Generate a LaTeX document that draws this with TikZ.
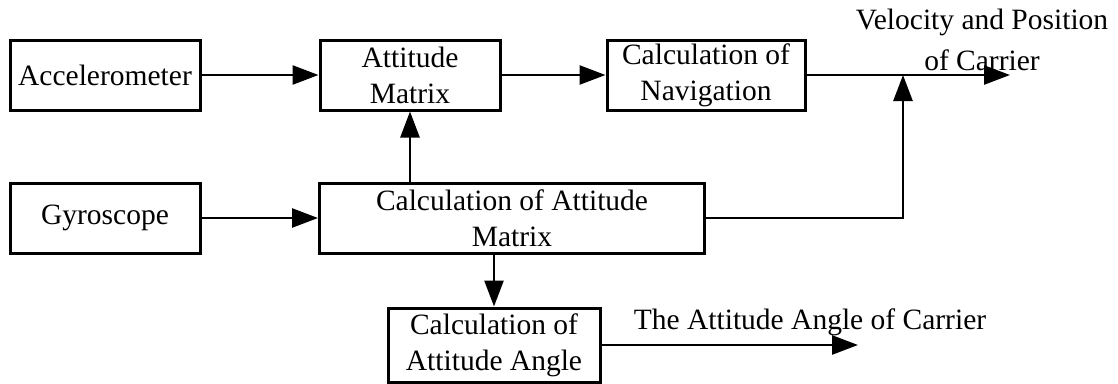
\documentclass[tikz,border=0pt]{standalone}
\usepackage{fontspec}
\setmainfont{Liberation Serif}
\usetikzlibrary{arrows.meta, positioning, calc}
\tikzset{
	blockbox/.style={draw, line width=3pt, minimum height=70pt, align=center, inner sep=2pt},
	flowarr/.style={-{Triangle[length=26pt, width=19pt]}, line width=2.6pt},
	outlabel/.style={align=center, inner sep=0pt},
}

\begin{document}
\begin{tikzpicture}[
		x=1pt, y=-1pt,
		font=\fontsize{29.5}{36}\selectfont
	]
	\useasboundingbox (0,0) rectangle (1118,383);

	% Sensors
	\node[blockbox, minimum width=190pt] (acc) at (105,75) {Accelerometer};
	\node[blockbox, minimum width=190pt] (gyro) at (105,218) {Gyroscope};

	% Upper row
	\node[blockbox, minimum width=180pt] (att) at (410,75) {Attitude\\Matrix};
	\node[blockbox, minimum width=198pt] (nav) at (706,75) {Calculation of\\Navigation};

	% Attitude calculation
	\node[blockbox, minimum width=385pt] (cam) at (512,218) {Calculation of Attitude\\Matrix};
	\node[blockbox, minimum width=212pt, minimum height=74pt] (ang) at (494,345) {Calculation of\\Attitude Angle};

	% Outputs
	\coordinate (junc) at (903,75);
	\coordinate (vpout) at (1010,75);
	\coordinate (angout) at (858,345);
	\node[outlabel, font=\fontsize{29.5}{41}\selectfont] (vplabel) at (982,40) {Velocity and Position\\of Carrier};
	\node[outlabel] (anglabel) at (810,322) {The Attitude Angle of Carrier};

	% Arrows
	\draw[flowarr] (acc) -- (att);
	\draw[flowarr] (att) -- (nav);
	\draw[flowarr] (nav) -- (vpout);
	\draw[flowarr] (gyro) -- (cam);
	\draw[flowarr] (cam.north -| att.south) -- (att.south);
	\draw[flowarr] (cam.east) -| (junc);
	\draw[flowarr] (cam.south -| ang.north) -- (ang.north);
	\draw[flowarr] (ang) -- (angout);
\end{tikzpicture}
\end{document}
